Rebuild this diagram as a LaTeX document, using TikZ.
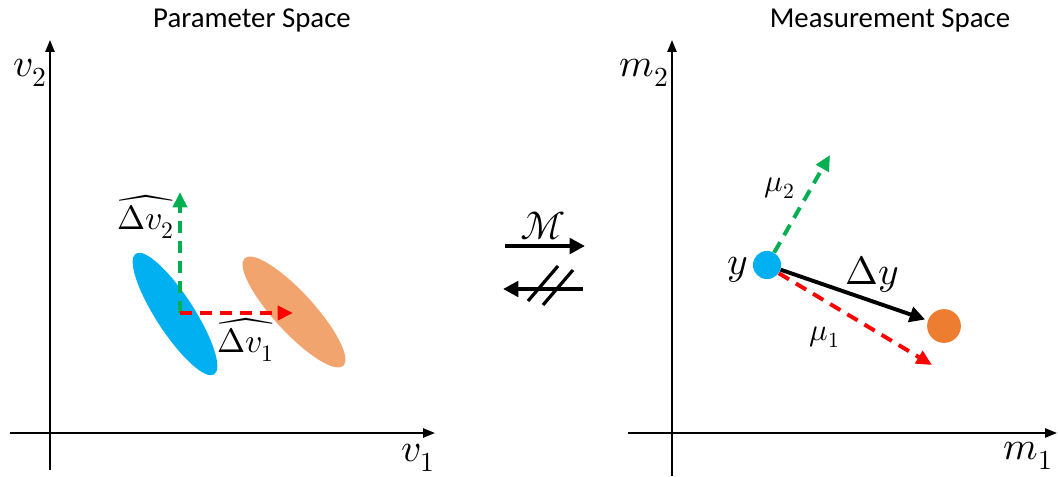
\documentclass[tikz,border=0pt]{standalone}
\usepackage{fontspec}
\usepackage{unicode-math}
\setmainfont{Carlito}
\setmathfont{Latin Modern Math}
\usetikzlibrary{arrows.meta,positioning}
\definecolor{myblue}{RGB}{0,176,240}
\definecolor{myorange}{RGB}{237,125,49}
\definecolor{mypeach}{RGB}{241,164,110}
\definecolor{mygreen}{RGB}{0,176,80}
\definecolor{myred}{RGB}{255,0,0}

\begin{document}
\begin{tikzpicture}[x=0.025cm, y=0.025cm,
    axis/.style = {-{Triangle[length=8.5pt, width=6.5pt]}, line width=1.4pt},
    map/.style  = {-{Triangle[length=11pt, width=11pt]}, line width=2.8pt},
    dsh/.style  = {-{Triangle[length=11pt, width=10pt]}, line width=2.8pt,
                   dash pattern=on 8.5pt off 5.7pt},
    axlbl/.style = {font=\fontsize{28}{32}\selectfont},
    title/.style = {font=\fontsize{20.5}{24}\selectfont},
    vlbl/.style  = {font=\fontsize{24}{28}\selectfont},
    mlbl/.style  = {font=\fontsize{22}{26}\selectfont},
    dot/.style   = {circle, inner sep=0pt},
  ]
  \useasboundingbox (0,0) rectangle (1058,476);

  % parameter space
  \node[title] (ptitle) at (252,456) {Parameter Space};
  \coordinate (pyb) at (50,6);   \coordinate (pyt) at (50,436);
  \coordinate (pxl) at (10,43);  \coordinate (pxr) at (435,43);
  \draw[axis] (pyb) -- (pyt);
  \draw[axis] (pxl) -- (pxr);
  \node[axlbl] (v2) at (30,403) {$v_2$};
  \node[axlbl] (v1) at (418,18) {$v_1$};

  \fill[myblue] (175,162) ellipse[x radius=72, y radius=19, rotate=-57];
  \fill[mypeach] (294,164) ellipse[x radius=73, y radius=20, rotate=-47.5];

  \coordinate (p0) at (180,163);
  \coordinate (pup) at (180,284);
  \coordinate (prt) at (293,163);
  \draw[dsh, mygreen] (p0) -- (pup);
  \draw[dsh, myred] (p0) -- (prt);
  \node[vlbl] (dv2) at (146,259) {$\widehat{\Delta v_2}$};
  \node[vlbl] (dv1) at (246,136) {$\widehat{\Delta v_1}$};

  % the map between the spaces
  \coordinate (fa) at (505,230); \coordinate (fb) at (585,230);
  \coordinate (ba) at (583,187); \coordinate (bb) at (503,187);
  \draw[map] (fa) -- (fb);
  \node[axlbl] (M) at (543,250) {$\mathcal{M}$};
  \draw[map] (ba) -- (bb);
  \coordinate (s1a) at (528,175); \coordinate (s1b) at (558,210);
  \coordinate (s2a) at (543,171); \coordinate (s2b) at (573,206);
  \draw[line width=2.3pt] (s1a) -- (s1b);
  \draw[line width=2.3pt] (s2a) -- (s2b);

  % measurement space
  \node[title] (mtitle) at (890,456) {Measurement Space};
  \coordinate (myb) at (672,0);   \coordinate (myt) at (672,436);
  \coordinate (mxl) at (628,43);  \coordinate (mxr) at (1057,43);
  \draw[axis] (myb) -- (myt);
  \draw[axis] (mxl) -- (mxr);
  \node[axlbl] (m2) at (644,403) {$m_2$};
  \node[axlbl] (m1) at (1028,20) {$m_1$};

  \node[dot, fill=myblue, minimum size=20] (ydot) at (767,211) {};
  \node[dot, fill=myorange, minimum size=24] (odot) at (944,150) {};
  \coordinate (mu2tip) at (830,321);
  \coordinate (mu1tip) at (932,111);
  \draw[dsh, mygreen] (ydot.60) -- (mu2tip);
  \draw[dsh, myred] (ydot.-35) -- (mu1tip);
  \draw[map, shorten >=2pt] (ydot) -- (odot);
  \node[axlbl] (ylbl) at (738,206) {$y$};
  \node[axlbl] (dy) at (872,202) {$\Delta y$};
  \node[mlbl] (mu2) at (780,288) {$\mu_2$};
  \node[mlbl] (mu1) at (825,139) {$\mu_1$};
\end{tikzpicture}
\end{document}
